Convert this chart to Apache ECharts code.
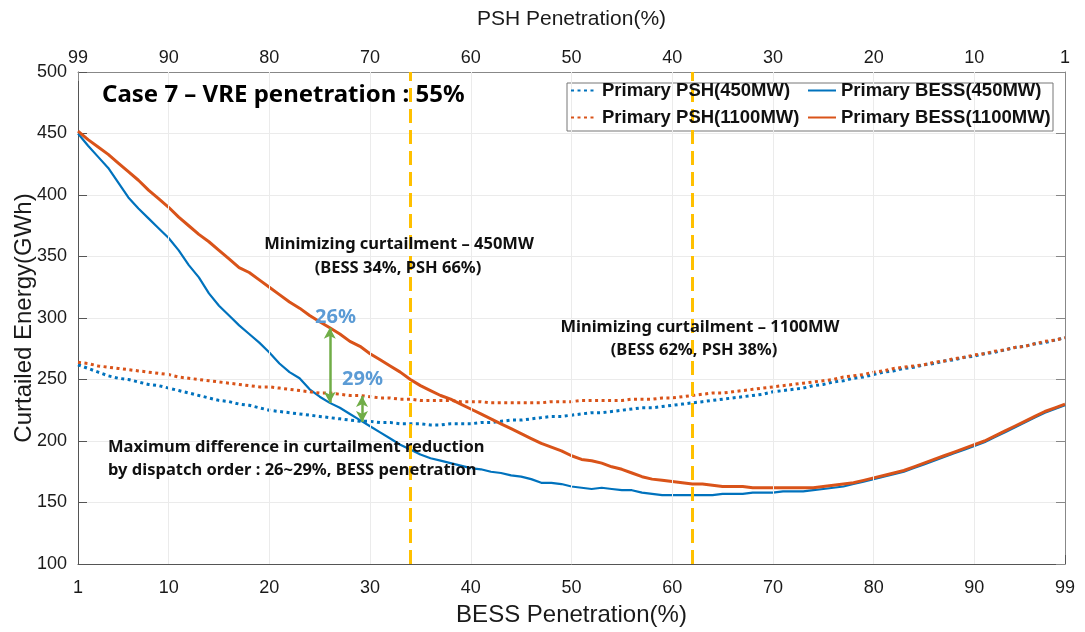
<!DOCTYPE html>
<html>
<head>
<meta charset="utf-8">
<script src="https://cdn.jsdelivr.net/npm/echarts@6/dist/echarts.min.js"></script>
<style>
  html, body { margin: 0; padding: 0; background: #fff; }
  #chart { width: 1085px; height: 632px; }
</style>
</head>
<body>
<div id="chart"></div>
<script>
// BESS penetration (%) along the bottom axis; PSH penetration = 100 - BESS on top
const bessTicks = [1, 10, 20, 30, 40, 50, 60, 70, 80, 90, 99];
const gridX = [10, 20, 30, 40, 50, 60, 70, 80, 90];
const optimumBess = [34, 62];

// Curtailed energy (GWh) for BESS penetration 1..99 %
const primaryPsh450 = [
  262,259,256,253,251,250,248,246,245,243,
  241,239,237,235,233,232,230,229,227,225,
  224,223,222,221,220,219,218,217,216,216,
  215,215,214,214,214,213,213,214,214,214,
  215,215,216,217,217,218,219,220,220,221,
  222,223,223,224,225,226,227,227,228,229,
  230,231,232,233,234,235,236,237,238,240,
  241,242,243,245,246,248,249,251,252,254,
  256,257,259,260,262,263,265,266,268,269,
  271,272,274,276,277,279,280,282,284
];
const primaryBess450 = [
  450,440,431,422,410,398,389,381,373,365,
  355,343,333,320,310,302,294,287,280,272,
  263,256,251,242,236,231,227,222,217,212,
  207,202,197,193,189,186,184,182,180,178,
  177,175,174,172,171,169,166,166,165,163,
  162,161,162,161,160,160,158,157,156,156,
  156,156,156,156,157,157,157,158,158,158,
  159,159,159,160,161,162,163,165,167,169,
  171,173,175,178,181,184,187,190,193,196,
  199,203,207,211,215,219,223,226,229
];
const primaryPsh1100 = [
  264,263,261,260,259,258,257,256,255,254,
  252,251,250,249,248,247,246,245,244,244,
  243,242,241,240,239,239,238,237,237,236,
  235,235,234,234,233,233,233,233,232,232,
  232,231,231,231,231,231,231,232,232,232,
  233,233,233,233,233,234,234,234,235,235,
  236,237,238,239,239,240,241,242,243,244,
  245,246,247,248,249,250,252,253,254,256,
  257,259,260,261,262,264,265,267,268,270,
  271,273,274,276,277,279,281,282,284
];
const primaryBess1100 = [
  452,445,439,433,426,419,412,404,397,390,
  382,375,368,362,355,348,341,337,331,325,
  319,313,308,302,297,292,287,281,277,271,
  266,261,256,250,245,241,237,234,230,226,
  222,218,214,210,206,202,198,195,192,188,
  185,184,182,179,177,174,171,169,168,167,
  166,165,165,164,163,163,163,162,162,162,
  162,162,162,162,163,164,165,166,168,170,
  172,174,176,179,182,185,188,191,194,197,
  200,204,208,212,216,220,224,227,230
];

// Gap arrows: [bess, upper, lower]
const gapArrows = [[26, 292, 231], [29.2, 236.5, 215.5]];

const blue = '#0072bd';
const orange = '#d95319';
const sansLatin = '"Liberation Sans", Arial, sans-serif';
const sansNote = '"Noto Sans", "Open Sans", sans-serif';

function pairs(values) {
  return values.map((v, i) => [i + 1, v]);
}

const chart = echarts.init(document.getElementById('chart'), null, { renderer: 'canvas' });

const axisLabelStyle = { color: '#1a1a1a', fontSize: 18, fontFamily: sansLatin };
const legendText = { color: '#111', fontSize: 18.5, fontWeight: 'bold', fontFamily: sansLatin };

const option = {
  animation: false,
  backgroundColor: '#fff',
  grid: { left: 78, right: 20, top: 72, bottom: 68, containLabel: false, outerBoundsMode: 'none' },
  xAxis: [
    {
      type: 'value', position: 'bottom', min: 1, max: 99,
      name: 'BESS Penetration(%)', nameLocation: 'middle', nameGap: 39, nameMoveOverlap: false,
      nameTextStyle: { color: '#1a1a1a', fontSize: 24, fontFamily: sansLatin },
      axisLine: { show: true, onZero: false, lineStyle: { color: '#555', width: 1 } },
      axisTick: { show: true, inside: true, length: 9, customValues: bessTicks, lineStyle: { color: '#555' } },
      axisLabel: Object.assign({ margin: 15, customValues: bessTicks }, axisLabelStyle),
      splitLine: { show: false }
    },
    {
      type: 'value', position: 'top', min: 1, max: 99, inverse: true,
      name: 'PSH Penetration(%)', nameLocation: 'middle', nameGap: 42, nameMoveOverlap: false,
      nameTextStyle: { color: '#1a1a1a', fontSize: 21, fontFamily: sansLatin },
      axisLine: { show: true, onZero: false, lineStyle: { color: '#888', width: 1 } },
      axisTick: { show: true, inside: true, length: 9, customValues: bessTicks, lineStyle: { color: '#888' } },
      axisLabel: Object.assign({ margin: 5, customValues: bessTicks }, axisLabelStyle),
      splitLine: { show: false }
    }
  ],
  yAxis: [
    {
      type: 'value', position: 'left', min: 100, max: 500, interval: 50,
      name: 'Curtailed Energy(GWh)', nameLocation: 'middle', nameGap: 42, nameMoveOverlap: false,
      nameTextStyle: { color: '#1a1a1a', fontSize: 24, fontFamily: sansLatin },
      axisLine: { show: true, onZero: false, lineStyle: { color: '#555', width: 1 } },
      axisTick: { show: true, inside: true, length: 9, lineStyle: { color: '#555' } },
      axisLabel: Object.assign({ margin: 11 }, axisLabelStyle),
      splitLine: { show: true, lineStyle: { color: '#ebebeb', width: 1 } }
    },
    {
      type: 'value', position: 'right', min: 100, max: 500, interval: 50,
      axisLine: { show: true, onZero: false, lineStyle: { color: '#888', width: 1 } },
      axisTick: { show: true, inside: true, length: 9, lineStyle: { color: '#888' } },
      axisLabel: { show: false },
      splitLine: { show: false }
    }
  ],
  legend: [
    {
      orient: 'vertical', left: 565, top: 76, itemGap: 8,
      itemWidth: 26, itemHeight: 14,
      itemStyle: { opacity: 0 },
      data: ['Primary PSH(450MW)', 'Primary PSH(1100MW)'],
      textStyle: legendText, z: 6
    },
    {
      orient: 'vertical', left: 802, top: 76, itemGap: 8,
      itemWidth: 28, itemHeight: 14,
      itemStyle: { opacity: 0 },
      data: ['Primary BESS(450MW)', 'Primary BESS(1100MW)'],
      textStyle: legendText, z: 6
    }
  ],
  series: [
    {
      // vertical grid lines at the labelled BESS ticks
      name: 'grid', type: 'line', data: [], silent: true, z: 0,
      markLine: {
        silent: true, symbol: ['none', 'none'], label: { show: false },
        lineStyle: { color: '#ebebeb', width: 1, type: 'solid' },
        data: gridX.map(v => ({ xAxis: v }))
      }
    },
    {
      name: 'Primary PSH(450MW)', type: 'line', data: pairs(primaryPsh450),
      showSymbol: false, symbol: 'none', z: 3,
      lineStyle: { color: blue, width: 3, type: [3, 3.5] }, itemStyle: { color: blue }
    },
    {
      name: 'Primary BESS(450MW)', type: 'line', data: pairs(primaryBess450),
      showSymbol: false, symbol: 'none', z: 3,
      lineStyle: { color: blue, width: 2.2, type: 'solid' }, itemStyle: { color: blue }
    },
    {
      name: 'Primary PSH(1100MW)', type: 'line', data: pairs(primaryPsh1100),
      showSymbol: false, symbol: 'none', z: 3,
      lineStyle: { color: orange, width: 3, type: [3, 3.5] }, itemStyle: { color: orange }
    },
    {
      name: 'Primary BESS(1100MW)', type: 'line', data: pairs(primaryBess1100),
      showSymbol: false, symbol: 'none', z: 4,
      lineStyle: { color: orange, width: 3, type: 'solid' }, itemStyle: { color: orange }
    },
    {
      // BESS shares giving the least curtailment
      name: 'optima', type: 'line', data: [], silent: true, z: 5,
      markLine: {
        silent: true, symbol: ['none', 'none'], label: { show: false },
        lineStyle: { color: '#ffc000', width: 3, type: [14, 7] },
        data: optimumBess.map(v => ({ xAxis: v }))
      }
    },
    {
      // dispatch-order gap arrows
      name: 'gaps', type: 'line', data: [], silent: true, z: 5,
      markLine: {
        silent: true, symbol: ['arrow', 'arrow'], symbolSize: [9, 11], label: { show: false },
        lineStyle: { color: '#70ad47', width: 2.5, type: 'solid' },
        data: gapArrows.map(a => [{ coord: [a[0], a[1]] }, { coord: [a[0], a[2]] }])
      }
    }
  ],
  graphic: [
    {
      type: 'rect', z: 2, silent: true,
      shape: { x: 567, y: 83, width: 486, height: 48 },
      style: { fill: '#fff', stroke: '#777', lineWidth: 1 }
    },
    {
      type: 'text', left: 102, top: 83, z: 6,
      style: { text: 'Case 7 – VRE penetration : 55%', fill: '#000', font: 'bold 24px ' + sansNote }
    },
    {
      type: 'text', x: 399, y: 244, z: 6,
      style: { text: 'Minimizing curtailment – 450MW', fill: '#111', font: 'bold 16.5px ' + sansNote, align: 'center', verticalAlign: 'middle' }
    },
    {
      type: 'text', x: 398, y: 268, z: 6,
      style: { text: '(BESS 34%, PSH 66%)', fill: '#111', font: 'bold 16.5px ' + sansNote, align: 'center', verticalAlign: 'middle' }
    },
    {
      type: 'text', x: 700, y: 327, z: 6,
      style: { text: 'Minimizing curtailment – 1100MW', fill: '#111', font: 'bold 16.5px ' + sansNote, align: 'center', verticalAlign: 'middle' }
    },
    {
      type: 'text', x: 694, y: 350, z: 6,
      style: { text: '(BESS 62%, PSH 38%)', fill: '#111', font: 'bold 16.5px ' + sansNote, align: 'center', verticalAlign: 'middle' }
    },
    {
      type: 'text', x: 108, y: 447, z: 6,
      style: { text: 'Maximum difference in curtailment reduction', fill: '#111', font: 'bold 16.5px ' + sansNote, align: 'left', verticalAlign: 'middle' }
    },
    {
      type: 'text', x: 108, y: 470, z: 6,
      style: { text: 'by dispatch order : 26~29%, BESS penetration', fill: '#111', font: 'bold 16.5px ' + sansNote, align: 'left', verticalAlign: 'middle' }
    },
    {
      type: 'text', x: 315, y: 317, z: 6,
      style: { text: '26%', fill: '#5b9bd5', font: 'bold 20px ' + sansNote, align: 'left', verticalAlign: 'middle' }
    },
    {
      type: 'text', x: 342, y: 379, z: 6,
      style: { text: '29%', fill: '#5b9bd5', font: 'bold 20px ' + sansNote, align: 'left', verticalAlign: 'middle' }
    }
  ]
};

chart.setOption(option);
</script>
</body>
</html>
